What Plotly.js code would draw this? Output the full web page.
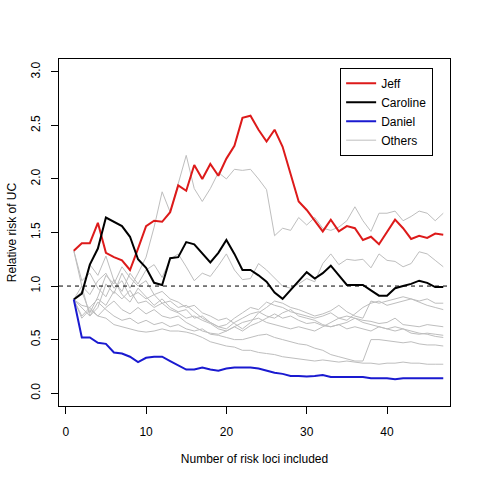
<!DOCTYPE html>
<html>
<head>
<meta charset="utf-8">
<script src="https://cdn.plot.ly/plotly-3.0.1.min.js"></script>
<style>html,body{margin:0;padding:0;background:#fff;}#chart{width:480px;height:480px;}</style>
</head>
<body>
<div id="chart"></div>
<script>
// Number of risk loci included
const loci = [1,2,3,4,5,6,7,8,9,10,11,12,13,14,15,16,17,18,19,20,21,22,23,24,25,26,27,28,29,30,31,32,33,34,35,36,37,38,39,40,41,42,43,44,45,46,47];

const jeff = [1.33,1.40,1.40,1.59,1.31,1.27,1.24,1.15,1.35,1.56,1.61,1.60,1.69,1.94,1.89,2.13,2.00,2.14,2.03,2.19,2.31,2.57,2.59,2.46,2.35,2.46,2.30,2.05,1.79,1.71,1.61,1.51,1.62,1.51,1.56,1.54,1.43,1.46,1.39,1.51,1.62,1.54,1.44,1.47,1.45,1.49,1.48];

const caroline = [0.875,0.93,1.20,1.35,1.64,1.60,1.56,1.46,1.25,1.17,1.03,1.01,1.26,1.27,1.41,1.39,1.30,1.22,1.31,1.43,1.30,1.15,1.15,1.10,1.04,0.94,0.88,0.96,1.04,1.13,1.07,1.12,1.19,1.10,1.01,1.01,1.01,0.96,0.91,0.91,0.98,1.00,1.02,1.05,1.03,0.99,0.99];

const daniel = [0.875,0.52,0.52,0.47,0.46,0.38,0.37,0.34,0.29,0.33,0.34,0.34,0.30,0.26,0.22,0.22,0.24,0.22,0.21,0.23,0.24,0.24,0.24,0.23,0.21,0.19,0.18,0.16,0.16,0.155,0.16,0.17,0.15,0.15,0.155,0.155,0.15,0.14,0.14,0.14,0.13,0.14,0.14,0.14,0.14,0.14,0.14];

const others = [
  [1.33,1.00,0.72,0.80,1.02,0.93,1.12,0.98,1.12,1.27,1.55,1.88,1.69,1.95,2.22,1.91,1.79,1.91,2.06,2.00,2.09,2.08,2.09,2.00,1.90,1.47,1.54,1.52,1.64,1.57,1.64,1.54,1.52,1.55,1.61,1.74,1.61,1.51,1.68,1.68,1.70,1.61,1.65,1.70,1.68,1.61,1.68],
  [0.875,0.93,1.20,1.10,1.28,1.05,0.95,1.12,1.02,1.15,1.20,1.08,1.25,1.30,1.18,1.05,1.12,1.09,1.19,1.30,1.15,1.06,1.07,1.21,1.15,1.07,1.00,0.98,1.02,1.07,1.04,1.21,1.30,1.20,1.25,1.24,1.25,1.17,1.30,1.24,1.23,1.18,1.21,1.32,1.30,1.24,1.18],
  [0.875,0.95,0.75,0.90,1.10,1.02,1.18,1.08,1.00,1.05,0.92,0.95,0.88,0.85,0.80,0.82,0.75,0.72,0.68,0.70,0.65,0.60,0.66,0.75,0.80,0.86,0.84,0.80,0.78,0.75,0.72,0.74,0.77,0.82,0.76,0.72,0.70,0.86,0.84,0.86,0.88,0.90,0.88,0.86,0.88,0.84,0.84],
  [1.33,1.05,1.12,0.98,0.90,1.06,0.92,0.85,0.98,0.90,0.82,0.88,0.80,0.76,0.78,0.70,0.72,0.66,0.62,0.64,0.70,0.75,0.80,0.78,0.85,0.82,0.80,0.76,0.74,0.72,0.70,0.72,0.75,0.70,0.68,0.74,0.80,0.84,0.86,0.82,0.84,0.86,0.88,0.85,0.82,0.80,0.78],
  [0.875,0.72,0.80,0.88,0.82,0.95,0.88,0.96,0.84,0.86,0.80,0.84,0.78,0.75,0.70,0.72,0.68,0.65,0.60,0.58,0.62,0.58,0.63,0.66,0.70,0.74,0.70,0.72,0.68,0.65,0.66,0.63,0.62,0.64,0.66,0.70,0.68,0.67,0.65,0.66,0.70,0.64,0.63,0.62,0.64,0.63,0.62],
  [0.875,1.00,0.92,1.05,1.12,0.98,1.05,0.90,0.94,0.88,0.92,0.84,0.86,0.80,0.82,0.76,0.70,0.66,0.62,0.60,0.66,0.70,0.74,0.76,0.72,0.70,0.75,0.78,0.72,0.70,0.68,0.64,0.62,0.64,0.60,0.62,0.60,0.58,0.62,0.60,0.58,0.60,0.56,0.55,0.56,0.55,0.54],
  [0.875,0.70,0.78,0.72,0.80,0.86,0.78,0.74,0.80,0.74,0.78,0.72,0.70,0.72,0.66,0.62,0.58,0.56,0.55,0.58,0.62,0.66,0.68,0.70,0.66,0.64,0.62,0.60,0.62,0.60,0.58,0.62,0.66,0.70,0.72,0.70,0.66,0.64,0.62,0.60,0.62,0.60,0.58,0.56,0.55,0.53,0.52],
  [0.875,0.80,0.72,0.85,0.78,0.72,0.68,0.70,0.65,0.68,0.64,0.66,0.62,0.64,0.60,0.58,0.60,0.55,0.54,0.52,0.50,0.50,0.52,0.54,0.55,0.52,0.50,0.48,0.46,0.45,0.42,0.40,0.36,0.34,0.32,0.30,0.30,0.50,0.50,0.49,0.48,0.47,0.48,0.46,0.45,0.45,0.44],
  [0.875,0.82,0.80,0.72,0.70,0.64,0.62,0.60,0.58,0.57,0.58,0.60,0.58,0.58,0.57,0.55,0.52,0.48,0.46,0.44,0.43,0.40,0.40,0.38,0.37,0.36,0.34,0.33,0.32,0.31,0.30,0.31,0.30,0.29,0.30,0.29,0.28,0.28,0.27,0.28,0.28,0.29,0.28,0.28,0.27,0.27,0.27]
];

const seriesNames = ["Jeff","Caroline","Daniel","Others"];
const yTicks = [0,0.5,1,1.5,2,2.5,3];
const yTickLabels = ["0.0","0.5","1.0","1.5","2.0","2.5","3.0"];
const xTicks = [0,10,20,30,40];

const traces = [];
others.forEach((vals, i) => {
  traces.push({x: loci, y: vals, type: "scatter", mode: "lines",
    line: {color: "#bebebe", width: 1}, name: seriesNames[3],
    showlegend: false, legendgroup: "o", hoverinfo: "skip"});
});
traces.push({x: loci, y: jeff, type: "scatter", mode: "lines", line: {color: "#dd1a1a", width: 2}, name: seriesNames[0], legendrank: 1});
traces.push({x: loci, y: caroline, type: "scatter", mode: "lines", line: {color: "#000000", width: 2}, name: seriesNames[1], legendrank: 2});
traces.push({x: loci, y: daniel, type: "scatter", mode: "lines", line: {color: "#1a1ad0", width: 2}, name: seriesNames[2], legendrank: 3});
// legend entry for others
traces.push({x: [null], y: [null], type: "scatter", mode: "lines", line: {color: "#bebebe", width: 1}, name: seriesNames[3], legendrank: 4});

const font = {family: "Liberation Sans, Arial, Helvetica, sans-serif", size: 12, color: "#000"};

const layout = {
  width: 480, height: 480,
  margin: {l: 59, r: 30, t: 59, b: 74, pad: 0},
  paper_bgcolor: "#fff", plot_bgcolor: "#fff",
  font: font,
  showlegend: true,
  legend: {x: 0.719, y: 0.975, xanchor: "left", yanchor: "top",
    bordercolor: "#000", borderwidth: 1, bgcolor: "#fff",
    font: {family: font.family, size: 12, color: "#000"}, tracegroupgap: 0,
    traceorder: "normal"},
  xaxis: {range: [-0.84, 47.84], tickvals: xTicks, ticks: "outside", ticklen: 7,
    tickcolor: "#000", showline: true, mirror: true, linecolor: "#000", linewidth: 1,
    showgrid: false, zeroline: false, ticklabelstandoff: 8,
    title: {text: "Number of risk loci included", font: font, standoff: 16}},
  yaxis: {range: [-0.12, 3.12], tickvals: yTicks, ticktext: yTickLabels, ticks: "outside", ticklen: 7,
    tickcolor: "#000", showline: true, mirror: true, linecolor: "#000", linewidth: 1,
    showgrid: false, zeroline: false, tickangle: -90, ticklabelstandoff: 6,
    title: {text: "Relative risk of UC", font: font, standoff: 10}},
  shapes: [{type: "line", xref: "paper", x0: 0, x1: 1, yref: "y", y0: 1, y1: 1,
    line: {color: "#000", width: 1, dash: "4px,4px"}, layer: "above"}]
};

Plotly.newPlot("chart", traces, layout, {staticPlot: true, displayModeBar: false});
</script>
</body>
</html>
